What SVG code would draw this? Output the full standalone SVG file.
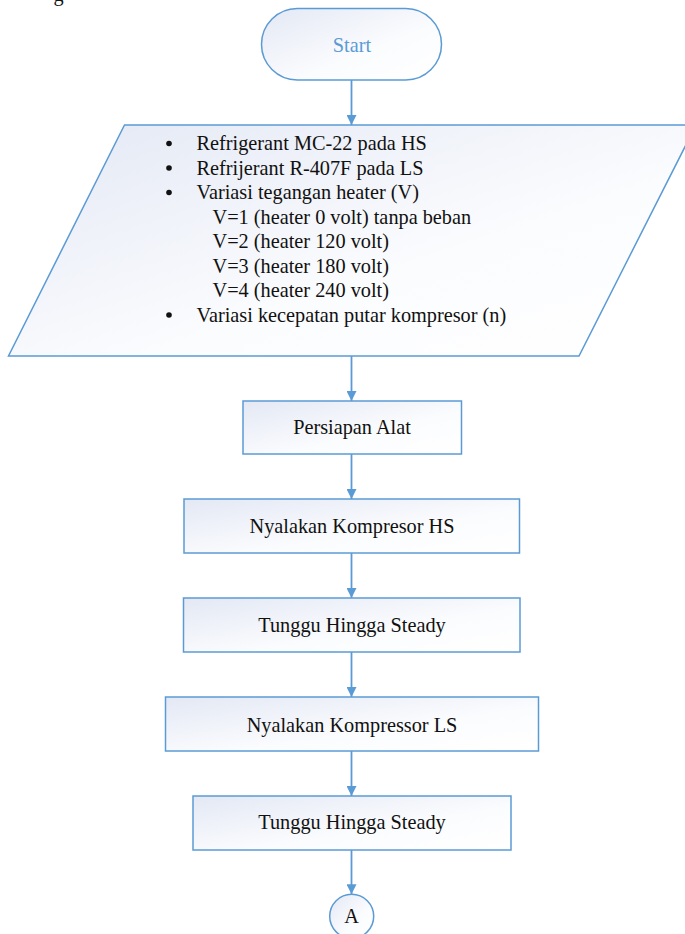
<svg xmlns="http://www.w3.org/2000/svg" width="685" height="934" viewBox="0 0 685 934">
  <defs>
    <linearGradient id="fillGrad" x1="0" y1="0" x2="1" y2="1">
      <stop offset="0" stop-color="#e3e8f4"/>
      <stop offset="0.6" stop-color="#fbfcfe"/>
      <stop offset="1" stop-color="#ffffff"/>
    </linearGradient>
    <marker id="arrow" viewBox="0 0 10 10" refX="10" refY="5" markerWidth="10" markerHeight="10" markerUnits="userSpaceOnUse" orient="auto">
      <path d="M0,0 L10,5 L0,10 z" fill="#5b9bd5"/>
    </marker>
    <style>
      .shape { fill: url(#fillGrad); stroke: #5b9bd5; stroke-width: 1.5; }
      .label { font-family: "Liberation Serif", "Times New Roman", serif; font-size: 20.3px; fill: #111111; }
      .mid { text-anchor: middle; }
      .conn { stroke: #5b9bd5; stroke-width: 1.8; fill: none; marker-end: url(#arrow); }
    </style>
  </defs>
  <rect width="685" height="934" fill="#ffffff"/>

  <text class="label" x="53.5" y="0.5">g</text>

  <g id="start">
    <rect class="shape" x="261.5" y="8.5" width="180" height="71.5" rx="35.75" ry="35.75"/>
    <text class="label mid" x="352" y="52" style="fill:#5b9bd5">Start</text>
  </g>

  <g id="input">
    <polygon class="shape" points="124.5,125 696,125 579,356 8.5,356"/>
    <g class="label">
      <circle cx="169" cy="143.5" r="2.8" fill="#111"/>
      <circle cx="169" cy="168" r="2.8" fill="#111"/>
      <circle cx="169" cy="192.5" r="2.8" fill="#111"/>
      <circle cx="169" cy="315" r="2.8" fill="#111"/>
      <text class="label" x="196.5" y="150">Refrigerant MC-22 pada HS</text>
      <text class="label" x="196.5" y="174.5">Refrijerant R-407F pada LS</text>
      <text class="label" x="196.5" y="199">Variasi tegangan heater (V)</text>
      <text class="label" x="212.5" y="223.5">V=1 (heater 0 volt) tanpa beban</text>
      <text class="label" x="212.5" y="248">V=2 (heater 120 volt)</text>
      <text class="label" x="212.5" y="272.5">V=3 (heater 180 volt)</text>
      <text class="label" x="212.5" y="297">V=4 (heater 240 volt)</text>
      <text class="label" x="196.5" y="321.5">Variasi kecepatan putar kompresor (n)</text>
    </g>
  </g>

  <g id="persiapan">
    <rect class="shape" x="243" y="401" width="218.5" height="53"/>
    <text class="label mid" x="352" y="434.3">Persiapan Alat</text>
  </g>

  <g id="nyalakan-hs">
    <rect class="shape" x="184" y="499" width="335.5" height="54"/>
    <text class="label mid" x="352" y="533.3">Nyalakan Kompresor HS</text>
  </g>

  <g id="tunggu1">
    <rect class="shape" x="183.5" y="598" width="336.5" height="54"/>
    <text class="label mid" x="352" y="632.3">Tunggu Hingga Steady</text>
  </g>

  <g id="nyalakan-ls">
    <rect class="shape" x="165.5" y="697" width="373" height="54"/>
    <text class="label mid" x="352" y="731.7">Nyalakan Kompressor LS</text>
  </g>

  <g id="tunggu2">
    <rect class="shape" x="193" y="796" width="318" height="54"/>
    <text class="label mid" x="352" y="829">Tunggu Hingga Steady</text>
  </g>

  <g id="connector-a">
    <circle class="shape" cx="351.7" cy="916.3" r="22"/>
    <text class="label mid" x="351.7" y="923">A</text>
  </g>

  <g id="connectors">
    <line class="conn" x1="351.5" y1="80" x2="351.5" y2="125"/>
    <line class="conn" x1="351.5" y1="356" x2="351.5" y2="401"/>
    <line class="conn" x1="351.5" y1="454" x2="351.5" y2="499"/>
    <line class="conn" x1="351.5" y1="553" x2="351.5" y2="598"/>
    <line class="conn" x1="351.5" y1="652" x2="351.5" y2="697"/>
    <line class="conn" x1="351.5" y1="751" x2="351.5" y2="796"/>
    <line class="conn" x1="351.5" y1="850" x2="351.5" y2="894.3"/>
  </g>
</svg>
